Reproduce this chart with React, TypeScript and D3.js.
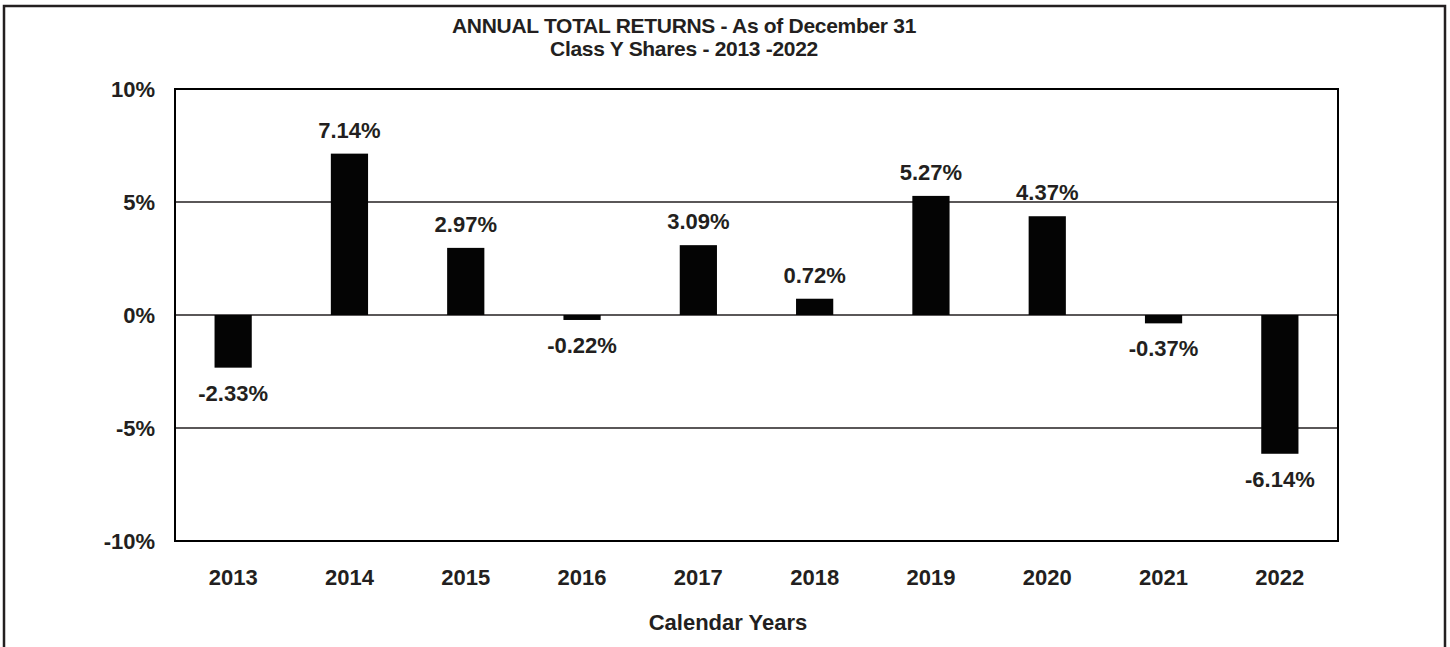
import React from "react";
import * as d3 from "d3";

const years = ["2013", "2014", "2015", "2016", "2017", "2018", "2019", "2020", "2021", "2022"];
const returns = [-2.33, 7.14, 2.97, -0.22, 3.09, 0.72, 5.27, 4.37, -0.37, -6.14];
const yTicks = [-10, -5, 0, 5, 10];
const gridValues = [-5, 0, 5];
const titleLines = ["ANNUAL TOTAL RETURNS - As of December 31", "Class Y Shares - 2013 -2022"];
const xAxisTitle = "Calendar Years";

const W = 1450;
const H = 647;
const plot = { left: 175, right: 1338, top: 89, bottom: 541 };
const ink = "#231f20";
const font = "'Liberation Sans', Arial, Helvetica, sans-serif";

export default function App() {
  const x = d3
    .scaleBand<string>()
    .domain(years)
    .range([plot.left, plot.right])
    .paddingInner(0.68)
    .paddingOuter(0.34);
  const y = d3.scaleLinear().domain([-10, 10]).range([plot.bottom, plot.top]);
  const bw = x.bandwidth();

  return (
    <svg
      width={W}
      height={H}
      style={{ position: "absolute", left: 0, top: 0, background: "#fff" }}
      fontFamily={font}
      fontWeight="bold"
    >
      <rect x={0} y={0} width={W} height={H} fill="#fff" />
      {/* outer frame */}
      <path d={`M4,${H} V6 H1445 V${H}`} fill="none" stroke={ink} strokeWidth={2.5} />

      {/* title */}
      {titleLines.map((t, i) => (
        <text
          key={t}
          x={684}
          y={33 + i * 23}
          textAnchor="middle"
          fontSize={21}
          fill={ink}
          letterSpacing={-0.3}
        >
          {t}
        </text>
      ))}

      {/* gridlines */}
      {gridValues.map((v) => (
        <line
          key={v}
          x1={plot.left}
          x2={plot.right}
          y1={y(v)}
          y2={y(v)}
          stroke={ink}
          strokeWidth={1.5}
        />
      ))}

      {/* bars */}
      {returns.map((v, i) => (
        <rect
          key={years[i]}
          x={x(years[i])}
          y={y(Math.max(0, v))}
          width={bw}
          height={Math.abs(y(v) - y(0))}
          fill="#040404"
        />
      ))}

      {/* plot frame */}
      <rect
        x={plot.left}
        y={plot.top}
        width={plot.right - plot.left}
        height={plot.bottom - plot.top}
        fill="none"
        stroke="#000"
        strokeWidth={2}
      />

      {/* value labels */}
      {returns.map((v, i) => (
        <text
          key={"l" + years[i]}
          x={(x(years[i]) as number) + bw / 2}
          y={v >= 0 ? y(v) - 16 : y(v) + 33}
          textAnchor="middle"
          fontSize={22}
          fill={ink}
        >
          {v.toFixed(2)}%
        </text>
      ))}

      {/* y tick labels */}
      {yTicks.map((t) => (
        <text
          key={"t" + t}
          x={155}
          y={y(t) + 8}
          textAnchor="end"
          fontSize={22}
          fill={ink}
        >
          {t}%
        </text>
      ))}

      {/* x tick labels */}
      {years.map((yr) => (
        <text
          key={"x" + yr}
          x={(x(yr) as number) + bw / 2}
          y={585}
          textAnchor="middle"
          fontSize={22}
          fill={ink}
        >
          {yr}
        </text>
      ))}

      <text x={728} y={630} textAnchor="middle" fontSize={22} fill={ink}>
        {xAxisTitle}
      </text>
    </svg>
  );
}
